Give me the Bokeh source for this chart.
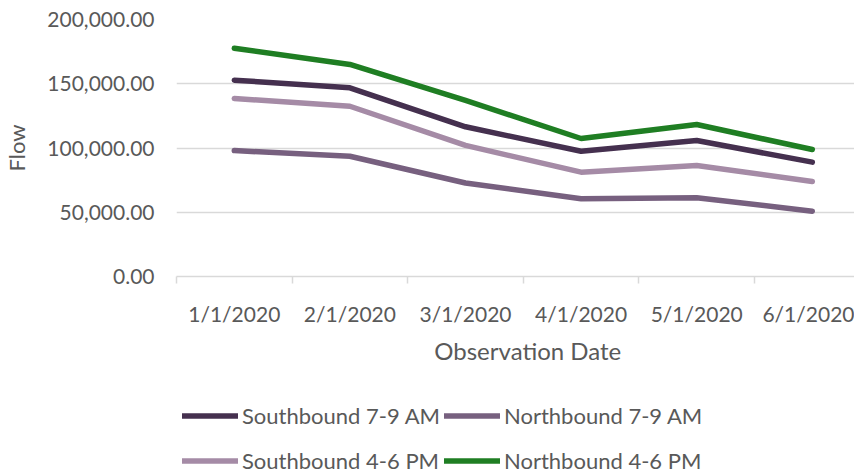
from bokeh.plotting import figure
from bokeh.layouts import column
from bokeh.models import (Range1d, FixedTicker, NumeralTickFormatter, Legend, LegendItem)
from bokeh.embed import file_html
from bokeh.resources import INLINE

dates = ["1/1/2020", "2/1/2020", "3/1/2020", "4/1/2020", "5/1/2020", "6/1/2020"]
southbound_am = [152800, 146800, 116500, 97500, 105800, 89000]
northbound_am = [98000, 93600, 72800, 60500, 61300, 50800]
southbound_pm = [138500, 132500, 102000, 81200, 86400, 73900]
northbound_pm = [177600, 165000, 137000, 107400, 118300, 98800]
y_ticks = [0, 50000, 100000, 150000, 200000]

FONT = "Lato"
TXT = "#595959"
GRID = "#d9d9d9"

xs = [i + 0.5 for i in range(len(dates))]

p = figure(width=854, height=376, output_backend="svg", toolbar_location=None,
           x_range=Range1d(0, 5.865), y_range=Range1d(0, 200000),
           min_border_left=169, min_border_top=19, min_border_bottom=100, min_border_right=0)
p.outline_line_color = None
p.background_fill_color = "white"
p.border_fill_color = "white"

series = [
    ("Southbound 7-9 AM", southbound_am, "#45304f"),
    ("Northbound 7-9 AM", northbound_am, "#77607f"),
    ("Southbound 4-6 PM", southbound_pm, "#a58ba6"),
    ("Northbound 4-6 PM", northbound_pm, "#1f7e23"),
]
for name, vals, col in series:
    p.line(xs, vals, line_color=col, line_width=5.5, line_join="round", line_cap="round")

# y axis
p.yaxis.ticker = FixedTicker(ticks=y_ticks)
p.yaxis.formatter = NumeralTickFormatter(format="0,0.00")
p.yaxis.axis_line_color = None
p.yaxis.major_tick_line_color = None
p.yaxis.minor_tick_line_color = None
p.yaxis.major_tick_out = 0
p.yaxis.major_label_standoff = 22
p.yaxis.major_label_text_font = FONT
p.yaxis.major_label_text_font_size = "21px"
p.yaxis.major_label_text_color = TXT
p.yaxis.axis_label = "Flow"
p.yaxis.axis_label_text_font = FONT
p.yaxis.axis_label_text_font_size = "22px"
p.yaxis.axis_label_text_font_style = "normal"
p.yaxis.axis_label_text_color = TXT
p.yaxis.axis_label_standoff = 14

# x axis
p.xaxis.ticker = FixedTicker(ticks=xs, minor_ticks=list(range(len(dates) + 1)))
p.xaxis.major_label_overrides = {x: d for x, d in zip(xs, dates)}
p.xaxis.axis_line_color = GRID
p.xaxis.axis_line_width = 1.5
p.xaxis.major_tick_line_color = None
p.xaxis.minor_tick_line_color = GRID
p.xaxis.minor_tick_line_width = 1.5
p.xaxis.minor_tick_out = 7
p.xaxis.minor_tick_in = 0
p.xaxis.major_tick_out = 0
p.xaxis.major_tick_in = 0
p.xaxis.major_label_standoff = 17
p.xaxis.major_label_text_font = FONT
p.xaxis.major_label_text_font_size = "21px"
p.xaxis.major_label_text_color = TXT
p.xaxis.axis_label = "\u00a0" * 4 + "Observation Date"
p.xaxis.axis_label_text_font = FONT
p.xaxis.axis_label_text_font_size = "24px"
p.xaxis.axis_label_text_font_style = "normal"
p.xaxis.axis_label_text_color = TXT
p.xaxis.axis_label_standoff = 7

p.xgrid.grid_line_color = None
p.ygrid.grid_line_color = GRID
p.ygrid.grid_line_width = 1.5
p.ygrid.ticker = FixedTicker(ticks=y_ticks)

# legend panel (its frame is aligned with the chart's frame by the column layout)
lf = figure(width=854, height=98, output_backend="svg", toolbar_location=None,
            x_range=Range1d(0, 1), y_range=Range1d(0, 1),
            min_border=0, min_border_left=0, min_border_right=0,
            min_border_top=0, min_border_bottom=0)
lf.outline_line_color = None
lf.axis.visible = False
lf.grid.visible = False
lf.background_fill_color = "white"
lf.border_fill_color = "white"

legend_renderers = {}
for name, vals, col in series:
    # same data, but outside this panel's visible range: only the legend swatch shows
    legend_renderers[name] = lf.line(xs, vals, line_color=col, line_width=5.5, line_cap="round")


def make_legend(names, x):
    lg = Legend(items=[LegendItem(label=n, renderers=[legend_renderers[n]]) for n in names],
                location=(x, 0), orientation="vertical",
                glyph_width=56, glyph_height=27, label_height=27,
                label_standoff=4, spacing=18, padding=0, margin=0,
                border_line_color=None, background_fill_alpha=0,
                label_text_font=FONT, label_text_font_size="22px",
                label_text_color=TXT)
    lf.add_layout(lg, "center")

make_legend(["Southbound 7-9 AM", "Southbound 4-6 PM"], 6)
make_legend(["Northbound 7-9 AM", "Northbound 4-6 PM"], 268)

layout = column(p, lf, spacing=0)
open("out.html", "w").write(file_html(layout, INLINE))
